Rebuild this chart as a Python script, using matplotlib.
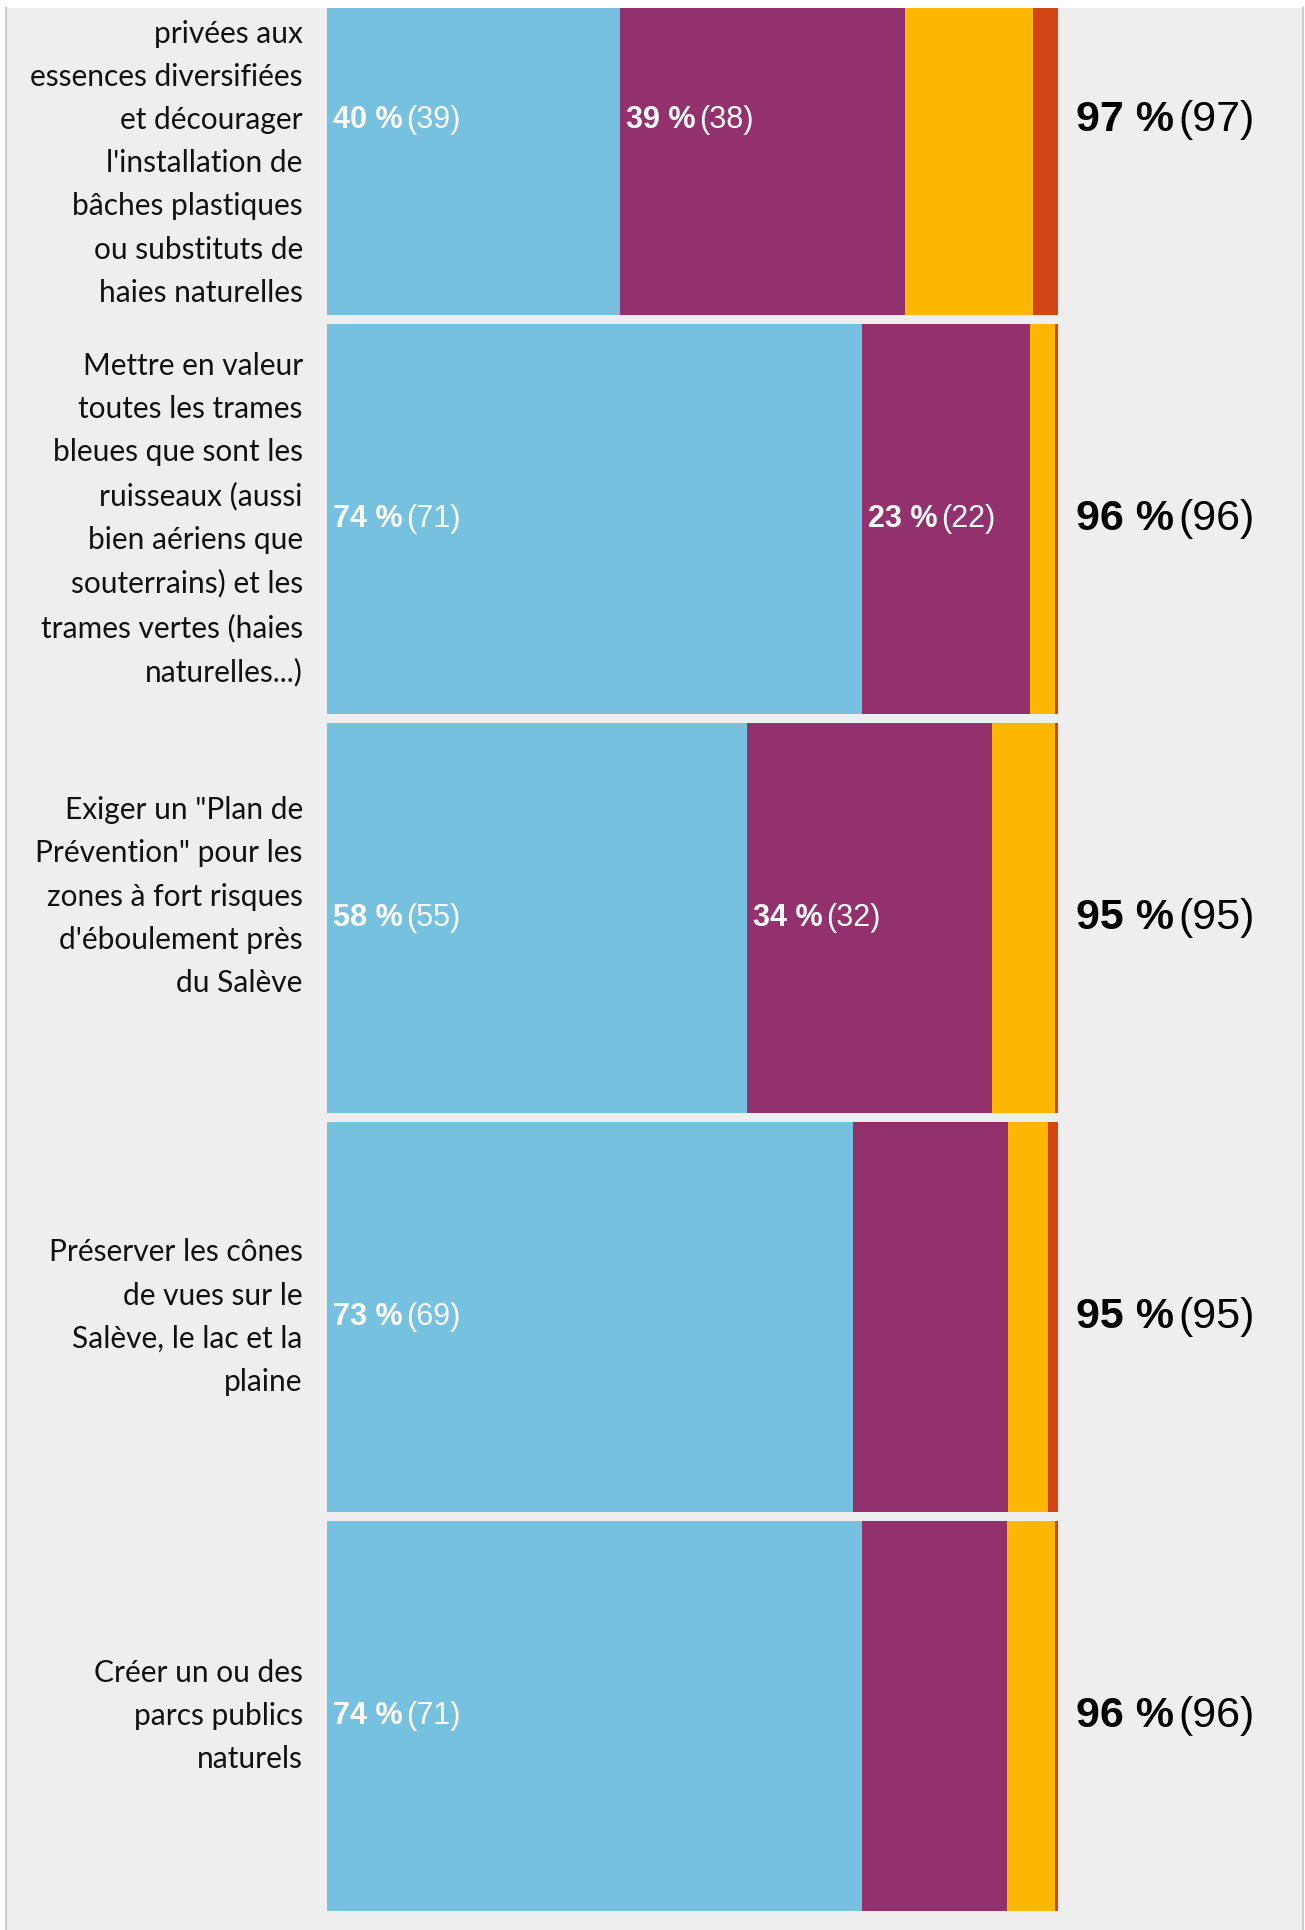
import matplotlib.pyplot as plt

# questions (the first one is cut at the top in the original screenshot)
questions = [
    "\n\nprivées aux\nessences diversifiées\net décourager\nl'installation de\nbâches plastiques\nou substituts de\nhaies naturelles",
    "Mettre en valeur\ntoutes les trames\nbleues que sont les\nruisseaux (aussi\nbien aériens que\nsouterrains) et les\ntrames vertes (haies\nnaturelles...)",
    "Exiger un \"Plan de\nPrévention\" pour les\nzones à fort risques\nd'éboulement près\ndu Salève\n",
    "Préserver les cônes\nde vues sur le\nSalève, le lac et la\nplaine",
    "Créer un ou des\nparcs publics\nnaturels",
]

# largeur des segments (%)
tout_a_fait = [40.1, 73.2, 57.5, 72.0, 73.2]
plutot_oui = [39.0, 23.0, 33.5, 21.1, 19.8]
plutot_non = [17.5, 3.4, 8.6, 5.5, 6.6]
pas_du_tout = [3.4, 0.4, 0.4, 1.4, 0.4]

# etiquettes affichees dans les segments
lab_blue = [("40 %", "(39)"), ("74 %", "(71)"), ("58 %", "(55)"), ("73 %", "(69)"), ("74 %", "(71)")]
lab_purple = [("39 %", "(38)"), ("23 %", "(22)"), ("34 %", "(32)"), None, None]

# total a droite
totals_pct = ["97 %", "96 %", "95 %", "95 %", "96 %"]
totals_n = ["(97)", "(96)", "(95)", "(95)", "(96)"]

colors = ["#76c0e0", "#93306e", "#fdb700", "#d24515"]
BG = "#eeeeee"
NUM_FONT = "Liberation Sans"
LABEL_FONT = "Lato"


def two_part_label(ax, x, y, bold, normal, color, size):
    t1 = ax.annotate(bold, xy=(x, y), xytext=(4.3, 0), textcoords="offset points",
                     ha="left", va="center", color=color, fontsize=size,
                     fontweight="bold", family=NUM_FONT)
    ax.annotate(normal, xy=(1, 0.5), xycoords=t1, xytext=(2.5, 0),
                textcoords="offset points", ha="left", va="center",
                color=color, fontsize=size, family=NUM_FONT)


def main():
    fig = plt.figure(figsize=(13.05, 19.30), dpi=100, facecolor="white")
    ax = fig.add_axes([6 / 1305, 0, 1297 / 1305, 1922 / 1930])
    ax.set_facecolor(BG)

    ypos = list(range(len(questions)))
    series = [tout_a_fait, plutot_oui, plutot_non, pas_du_tout]
    left = [0.0] * len(questions)
    for vals, col in zip(series, colors):
        ax.barh(ypos, vals, left=left, height=0.977, color=col, linewidth=0)
        left = [l + v for l, v in zip(left, vals)]

    for i, y in enumerate(ypos):
        b, n = lab_blue[i]
        two_part_label(ax, 0, y, b, n, "white", 22)
        if lab_purple[i] is not None:
            b, n = lab_purple[i]
            two_part_label(ax, tout_a_fait[i], y, b, n, "white", 22)
        # question a gauche
        ax.text(-3.3, y, questions[i], ha="right", va="center", fontsize=21.5,
                family=LABEL_FONT, color="#111111", linespacing=1.66)
        # total a droite
        t1 = ax.text(102.5, y, totals_pct[i], ha="left", va="center", fontsize=31,
                     fontweight="bold", family=NUM_FONT, color="black")
        ax.annotate(totals_n[i], xy=(1, 0.5), xycoords=t1, xytext=(3, 0),
                    textcoords="offset points", ha="left", va="center",
                    fontsize=31, family=NUM_FONT, color="black")

    ax.set_xlim(-43.9, 133.5)
    ax.set_ylim(4.536, -0.281)
    ax.set_xticks([])
    ax.set_yticks([])
    for s in ["top", "bottom"]:
        ax.spines[s].set_visible(False)
    for s in ["left", "right"]:
        ax.spines[s].set_color("#cccccc")
        ax.spines[s].set_linewidth(1.5)

    fig.savefig("out.png", dpi=100, facecolor="white")
    plt.close(fig)


if __name__ == "__main__":
    main()
